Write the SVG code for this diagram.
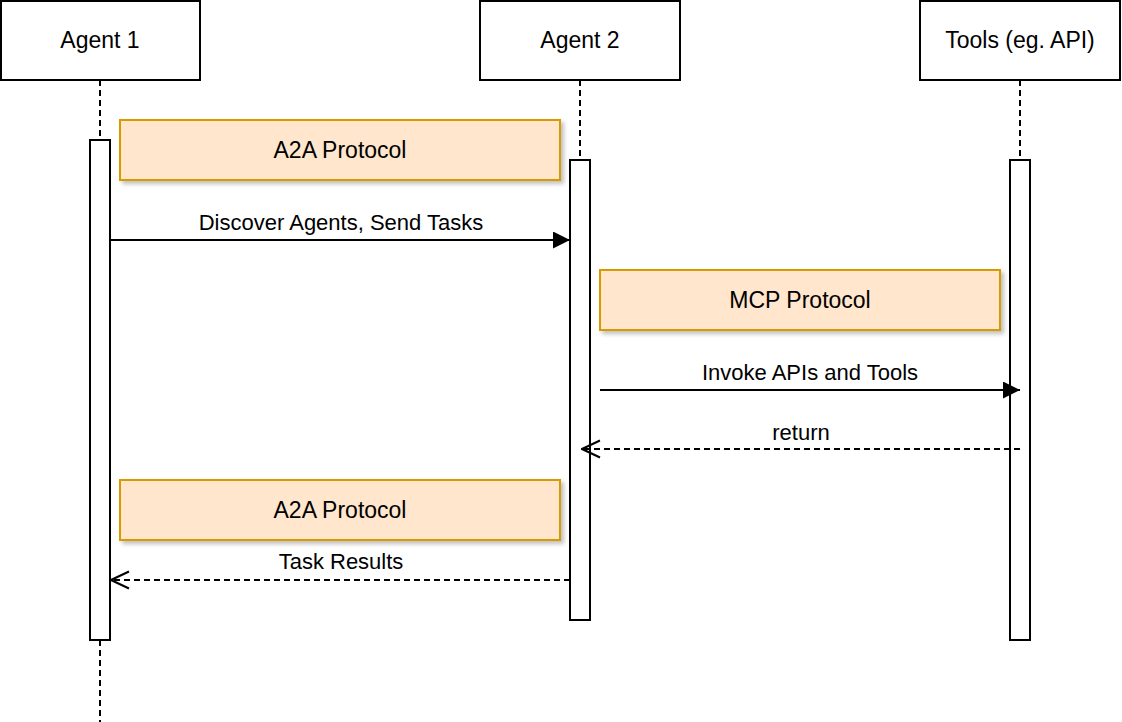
<svg xmlns="http://www.w3.org/2000/svg" width="1122" height="722" viewBox="0 0 1122 722">
<style>
text{font-family:"Liberation Sans",Arial,sans-serif;fill:#000;text-anchor:middle}
.head{fill:#fff;stroke:#000;stroke-width:2}
.bar{fill:#fff;stroke:#000;stroke-width:2}
.life{stroke:#000;stroke-width:2;stroke-dasharray:6 4;fill:none}
.proto{fill:#ffe6cc;stroke:#d79b00;stroke-width:2;filter:url(#sh)}
.msg{stroke:#000;stroke-width:2;fill:none}
.dash{stroke-dasharray:6 4}
.nt{font-size:23px}
.lt{font-size:22px}
</style>
<defs>
<filter id="sh" x="-10%" y="-30%" width="120%" height="160%">
<feGaussianBlur in="SourceAlpha" stdDeviation="2"/>
<feOffset dx="3" dy="3"/>
<feComponentTransfer><feFuncA type="linear" slope="0.25"/></feComponentTransfer>
<feMerge><feMergeNode/><feMergeNode in="SourceGraphic"/></feMerge>
</filter>
<marker id="fill" markerWidth="18" markerHeight="18" refX="17" refY="8.5" orient="auto" markerUnits="userSpaceOnUse">
<path d="M0,0 L17,8.5 L0,17 Z" fill="#000"/>
</marker>
<marker id="open" markerWidth="20" markerHeight="20" refX="19" refY="9.5" orient="auto" markerUnits="userSpaceOnUse">
<path d="M1,1 L19,9.5 L1,18" fill="none" stroke="#000" stroke-width="2"/>
</marker>
</defs>
<g id="lifelines">
<line class="life" x1="100" y1="80" x2="100" y2="140"/>
<line class="life" x1="100" y1="640" x2="100" y2="722"/>
<line class="life" x1="580" y1="80" x2="580" y2="160"/>
<line class="life" x1="1020" y1="80" x2="1020" y2="160"/>
</g>
<g id="agent1">
<rect class="head" x="1" y="1" width="199" height="79"/>
<text class="nt" x="100" y="48">Agent 1</text>
<rect class="bar" x="90" y="140" width="20" height="500"/>
</g>
<g id="agent2">
<rect class="head" x="480" y="1" width="200" height="79"/>
<text class="nt" x="580" y="48">Agent 2</text>
<rect class="bar" x="570" y="160" width="20" height="460"/>
</g>
<g id="tools">
<rect class="head" x="920" y="1" width="200" height="79"/>
<text class="nt" x="1020" y="48">Tools (eg. API)</text>
<rect class="bar" x="1010" y="160" width="20" height="480"/>
</g>
<g id="a2a1">
<rect class="proto" x="120" y="120" width="440" height="60"/>
<text class="nt" x="340" y="158">A2A Protocol</text>
</g>
<g id="mcp">
<rect class="proto" x="600" y="270" width="400" height="60"/>
<text class="nt" x="800" y="308">MCP Protocol</text>
</g>
<g id="a2a2">
<rect class="proto" x="120" y="480" width="440" height="60"/>
<text class="nt" x="340" y="518">A2A Protocol</text>
</g>
<g id="connectors">
<line class="msg" x1="110" y1="240" x2="570" y2="240" marker-end="url(#fill)"/>
<text class="lt" x="341" y="230">Discover Agents, Send Tasks</text>
<line class="msg" x1="600" y1="390" x2="1020" y2="390" marker-end="url(#fill)"/>
<text class="lt" x="810" y="380">Invoke APIs and Tools</text>
<line class="msg dash" x1="1020" y1="449" x2="582" y2="449" marker-end="url(#open)"/>
<text class="lt" x="801" y="440">return</text>
<line class="msg dash" x1="570" y1="580" x2="111" y2="580" marker-end="url(#open)"/>
<text class="lt" x="341" y="569">Task Results</text>
</g>
</svg>
